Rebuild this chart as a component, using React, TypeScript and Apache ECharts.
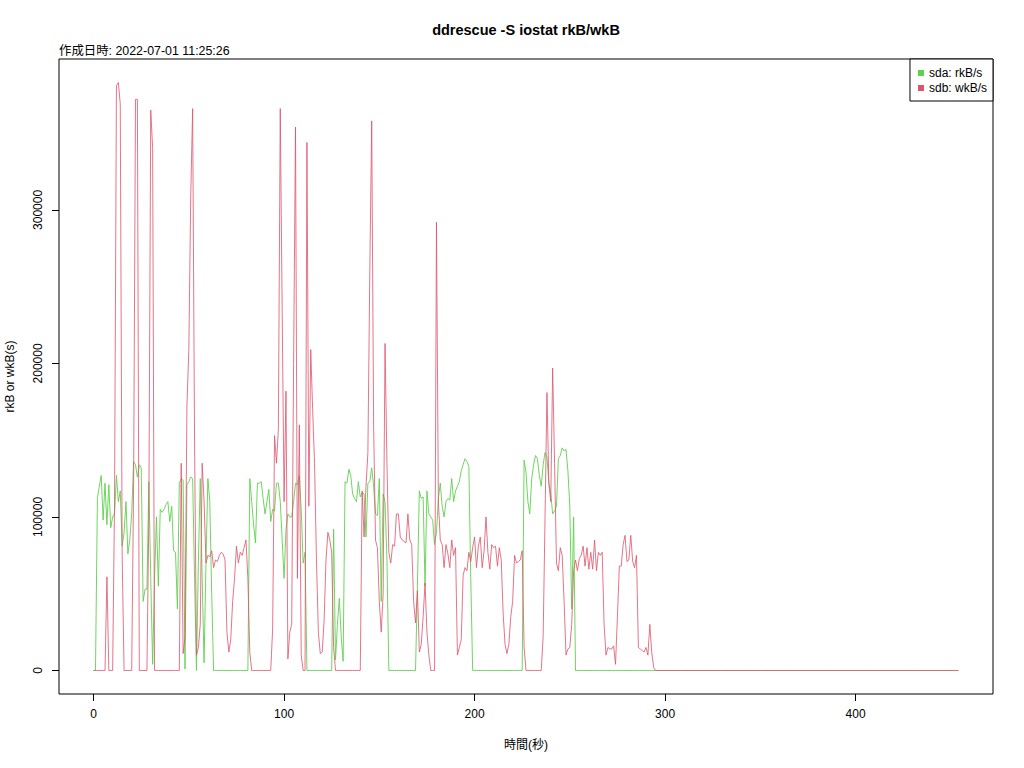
import React, { useEffect, useRef } from "react";
import * as echarts from "echarts";

// sda: rkB/s, one value per second (t = 0 .. 454)
const sdaRead: number[] = [
  /* 0   */ 0, 0, 112000, 120000, 127000, 98000, 122000, 95000, 121000, 93000,
  /* 10  */ 100000, 102000, 127000, 110000, 117000, 81000, 90000, 110000, 76000, 85000,
  /* 20  */ 102000, 136000, 134000, 126000, 134000, 132000, 45000, 53000, 53000, 123000,
  /* 30  */ 60000, 4000, 60000, 100000, 55000, 105000, 103000, 105000, 108000, 110000,
  /* 40  */ 97000, 107000, 78000, 77000, 40000, 122000, 125000, 124000, 1000, 121000,
  /* 50  */ 123000, 126000, 125000, 60000, 0, 70000, 125000, 60000, 5000, 70000,
  /* 60  */ 125000, 110000, 50000, 0, 0, 0, 0, 0, 0, 0,
  /* 70  */ 0, 0, 0, 0, 0, 0, 0, 0, 0, 0,
  /* 80  */ 0, 0, 125000, 110000, 95000, 83000, 122000, 122000, 123000, 112000,
  /* 90  */ 102000, 110000, 118000, 97000, 105000, 104000, 122000, 122000, 110000, 85000,
  /* 100 */ 60000, 92000, 102000, 100000, 100000, 110000, 122000, 121000, 127000, 105000,
  /* 110 */ 70000, 77000, 0, 0, 0, 0, 0, 0, 0, 0,
  /* 120 */ 0, 0, 0, 0, 0, 0, 92000, 7000, 30000, 47000,
  /* 130 */ 22000, 6000, 123000, 122000, 131000, 127000, 115000, 112000, 110000, 123000,
  /* 140 */ 113000, 116000, 115000, 87000, 122000, 123000, 132000, 120000, 102000, 101000,
  /* 150 */ 125000, 45000, 115000, 110000, 72000, 0, 0, 0, 0, 0,
  /* 160 */ 0, 0, 0, 0, 0, 0, 0, 0, 0, 0,
  /* 170 */ 55000, 117000, 112000, 113000, 55000, 117000, 102000, 100000, 98000, 82000,
  /* 180 */ 90000, 112000, 122000, 107000, 100000, 110000, 112000, 111000, 125000, 110000,
  /* 190 */ 117000, 120000, 123000, 130000, 134000, 138000, 136000, 133000, 60000, 0,
  /* 200 */ 0, 0, 0, 0, 0, 0, 0, 0, 0, 0,
  /* 210 */ 0, 0, 0, 0, 0, 0, 0, 0, 0, 0,
  /* 220 */ 0, 0, 0, 0, 0, 0, 137000, 129000, 110000, 102000,
  /* 230 */ 125000, 134000, 140000, 138000, 127000, 120000, 134000, 142000, 139000, 122000,
  /* 240 */ 115000, 102000, 104000, 107000, 138000, 140000, 145000, 143000, 144000, 130000,
  /* 250 */ 107000, 40000, 100000, 0, 0, 0, 0, 0, 0, 0,
  /* 260 */ 0, 0, 0, 0, 0, 0, 0, 0, 0, 0,
  /* 270 */ 0, 0, 0, 0, 0, 0, 0, 0, 0, 0,
  /* 280 */ 0, 0, 0, 0, 0, 0, 0, 0, 0, 0,
  /* 290 */ 0, 0, 0, 0, 0, 0, 0, 0, 0, 0,
  /* 300 */ 0, 0, 0, 0, 0, 0, 0, 0, 0, 0,
  /* 310 */ 0, 0, 0, 0, 0, 0, 0, 0, 0, 0,
  /* 320 */ 0, 0, 0, 0, 0, 0, 0, 0, 0, 0,
  /* 330 */ 0, 0, 0, 0, 0, 0, 0, 0, 0, 0,
  /* 340 */ 0, 0, 0, 0, 0, 0, 0, 0, 0, 0,
  /* 350 */ 0, 0, 0, 0, 0, 0, 0, 0, 0, 0,
  /* 360 */ 0, 0, 0, 0, 0, 0, 0, 0, 0, 0,
  /* 370 */ 0, 0, 0, 0, 0, 0, 0, 0, 0, 0,
  /* 380 */ 0, 0, 0, 0, 0, 0, 0, 0, 0, 0,
  /* 390 */ 0, 0, 0, 0, 0, 0, 0, 0, 0, 0,
  /* 400 */ 0, 0, 0, 0, 0, 0, 0, 0, 0, 0,
  /* 410 */ 0, 0, 0, 0, 0, 0, 0, 0, 0, 0,
  /* 420 */ 0, 0, 0, 0, 0, 0, 0, 0, 0, 0,
  /* 430 */ 0, 0, 0, 0, 0, 0, 0, 0, 0, 0,
  /* 440 */ 0, 0, 0, 0, 0, 0, 0, 0, 0, 0,
  /* 450 */ 0, 0, 0, 0, 0,
];

// sdb: wkB/s, one value per second (t = 0 .. 454)
const sdbWrite: number[] = [
  /* 0   */ 0, 0, 0, 0, 0, 0, 0, 61000, 0, 0,
  /* 10  */ 0, 110000, 381000, 383000, 369000, 75000, 0, 0, 0, 0,
  /* 20  */ 0, 120000, 372000, 372000, 0, 0, 0, 0, 0, 100000,
  /* 30  */ 365000, 340000, 0, 0, 0, 0, 0, 0, 0, 0,
  /* 40  */ 0, 0, 0, 0, 0, 0, 135000, 11000, 22000, 172000,
  /* 50  */ 209000, 309000, 366000, 150000, 10000, 15000, 30000, 135000, 110000, 70000,
  /* 60  */ 75000, 74000, 78000, 67000, 72000, 71000, 75000, 77000, 76000, 72000,
  /* 70  */ 25000, 12000, 20000, 45000, 60000, 81000, 70000, 77000, 75000, 80000,
  /* 80  */ 85000, 60000, 12000, 0, 0, 0, 0, 0, 0, 0,
  /* 90  */ 0, 0, 0, 0, 27000, 153000, 135000, 157000, 366000, 234000,
  /* 100 */ 110000, 182000, 7500, 25000, 30000, 200000, 354000, 60000, 160000, 10000,
  /* 110 */ 0, 0, 344000, 107000, 209000, 170000, 135000, 72000, 25000, 11000,
  /* 120 */ 12000, 32000, 72000, 90000, 85000, 77000, 15000, 0, 0, 0,
  /* 130 */ 0, 0, 0, 0, 0, 0, 0, 0, 0, 0,
  /* 140 */ 0, 117000, 87000, 120000, 142000, 260000, 358000, 160000, 85000, 80000,
  /* 150 */ 45000, 25000, 50000, 213000, 135000, 77000, 70000, 82000, 81000, 102000,
  /* 160 */ 102000, 87000, 85000, 84000, 83000, 102000, 85000, 82000, 45000, 31000,
  /* 170 */ 52000, 12000, 17000, 35000, 57000, 25000, 10000, 0, 0, 0,
  /* 180 */ 292000, 110000, 85000, 82000, 67000, 82000, 76000, 67000, 85000, 75000,
  /* 190 */ 80000, 10000, 15000, 20000, 62000, 67000, 65000, 77000, 71000, 80000,
  /* 200 */ 87000, 67000, 81000, 87000, 67000, 78000, 100000, 77000, 66000, 82000,
  /* 210 */ 80000, 81000, 68000, 80000, 72000, 37000, 17000, 11000, 17000, 35000,
  /* 220 */ 45000, 75000, 70000, 71000, 72000, 78000, 15000, 0, 0, 0,
  /* 230 */ 0, 0, 0, 0, 0, 0, 22000, 100000, 181000, 122000,
  /* 240 */ 110000, 197000, 135000, 70000, 65000, 80000, 75000, 45000, 10000, 14000,
  /* 250 */ 15000, 30000, 65000, 72000, 65000, 73000, 75000, 81000, 68000, 80000,
  /* 260 */ 66000, 77000, 66000, 85000, 65000, 77000, 75000, 77000, 30000, 10000,
  /* 270 */ 15000, 14000, 14000, 16000, 4000, 35000, 68000, 68000, 82000, 88000,
  /* 280 */ 71000, 72000, 88000, 71000, 67000, 75000, 15000, 14000, 13000, 12000,
  /* 290 */ 15000, 10000, 30000, 12000, 2000, 0, 0, 0, 0, 0,
  /* 300 */ 0, 0, 0, 0, 0, 0, 0, 0, 0, 0,
  /* 310 */ 0, 0, 0, 0, 0, 0, 0, 0, 0, 0,
  /* 320 */ 0, 0, 0, 0, 0, 0, 0, 0, 0, 0,
  /* 330 */ 0, 0, 0, 0, 0, 0, 0, 0, 0, 0,
  /* 340 */ 0, 0, 0, 0, 0, 0, 0, 0, 0, 0,
  /* 350 */ 0, 0, 0, 0, 0, 0, 0, 0, 0, 0,
  /* 360 */ 0, 0, 0, 0, 0, 0, 0, 0, 0, 0,
  /* 370 */ 0, 0, 0, 0, 0, 0, 0, 0, 0, 0,
  /* 380 */ 0, 0, 0, 0, 0, 0, 0, 0, 0, 0,
  /* 390 */ 0, 0, 0, 0, 0, 0, 0, 0, 0, 0,
  /* 400 */ 0, 0, 0, 0, 0, 0, 0, 0, 0, 0,
  /* 410 */ 0, 0, 0, 0, 0, 0, 0, 0, 0, 0,
  /* 420 */ 0, 0, 0, 0, 0, 0, 0, 0, 0, 0,
  /* 430 */ 0, 0, 0, 0, 0, 0, 0, 0, 0, 0,
  /* 440 */ 0, 0, 0, 0, 0, 0, 0, 0, 0, 0,
  /* 450 */ 0, 0, 0, 0, 0,
];

const xTicks: number[] = [0, 100, 200, 300, 400];
const yTicks: number[] = [0, 100000, 200000, 300000];
const seriesNames: string[] = ["sda: rkB/s", "sdb: wkB/s"];
const seriesColors: string[] = ["#61D04F", "#DF536B"];
const chartTitle = "ddrescue -S iostat rkB/wkB";
const chartSubtitle = "作成日時: 2022-07-01 11:25:26";
const xAxisTitle = "時間(秒)";
const yAxisTitle = "rkB or wkB(s)";

const FONT = '"Liberation Sans", Arial, "Noto Sans CJK JP", sans-serif';

export default function App() {
  const ref = useRef<HTMLDivElement>(null);

  useEffect(() => {
    if (!ref.current) return;
    const chart = echarts.init(ref.current, null, { renderer: "svg" });
    const W = 1024;
    const box = { l: 59, r: 993, t: 59, b: 694 };

    const tMax = Math.max(sdaRead.length, sdbWrite.length) - 1;
    const xMin = -0.04 * tMax;
    const xMax = tMax * 1.04;
    const vMax = Math.max(...sdaRead, ...sdbWrite);
    const yMin = -0.04 * vMax;
    const yMax = vMax * 1.04;

    const option: any = {
      animation: false,
      backgroundColor: "#ffffff",
      textStyle: { fontFamily: FONT },
      grid: {
        left: box.l,
        top: box.t,
        width: box.r - box.l,
        height: box.b - box.t,
        show: true,
        borderColor: "#000000",
        borderWidth: 1,
        backgroundColor: "transparent",
        containLabel: false,
        outerBoundsMode: "none",
      },
      xAxis: {
        type: "value",
        min: xMin,
        max: xMax,
        axisLine: { show: false, onZero: false },
        splitLine: { show: false },
        axisTick: {
          show: true,
          inside: false,
          length: 7,
          customValues: xTicks,
          lineStyle: { color: "#000" },
        },
        axisLabel: {
          show: true,
          customValues: xTicks,
          margin: 14,
          fontSize: 12,
          color: "#000",
          fontFamily: FONT,
          formatter: (v: number) => String(v),
        },
      },
      yAxis: {
        type: "value",
        min: yMin,
        max: yMax,
        axisLine: { show: false, onZero: false },
        splitLine: { show: false },
        axisTick: {
          show: true,
          inside: false,
          length: 7,
          customValues: yTicks,
          lineStyle: { color: "#000" },
        },
        axisLabel: {
          show: true,
          customValues: yTicks,
          rotate: 90,
          margin: 15,
          fontSize: 12,
          color: "#000",
          fontFamily: FONT,
          formatter: (v: number) => String(v),
        },
      },
      legend: {
        data: seriesNames,
        orient: "vertical",
        right: W - box.r,
        top: box.t,
        backgroundColor: "#ffffff",
        borderColor: "#000000",
        borderWidth: 1,
        borderRadius: 0,
        padding: [7, 6, 6, 8],
        itemGap: 1,
        itemWidth: 6,
        itemHeight: 6,
        icon: "rect",
        textStyle: { fontSize: 12, color: "#000", fontFamily: FONT, lineHeight: 14 },
        itemStyle: { opacity: 1 },
      },
      series: [
        {
          name: seriesNames[0],
          type: "line",
          data: sdaRead.map((v, i) => [i, v]),
          showSymbol: false,
          symbol: "none",
          color: seriesColors[0],
          lineStyle: { color: seriesColors[0], width: 1, opacity: 0.9 },
          z: 2,
        },
        {
          name: seriesNames[1],
          type: "line",
          data: sdbWrite.map((v, i) => [i, v]),
          showSymbol: false,
          symbol: "none",
          color: seriesColors[1],
          lineStyle: { color: seriesColors[1], width: 1, opacity: 0.8 },
          z: 3,
        },
      ],
      graphic: [
        {
          type: "text",
          x: (box.l + box.r) / 2,
          y: 30,
          style: {
            text: chartTitle,
            align: "center",
            verticalAlign: "middle",
            fontSize: 14.5,
            fontWeight: "bold",
            fontFamily: FONT,
            fill: "#000",
          },
        },
        {
          type: "text",
          x: box.l,
          y: 51,
          style: {
            text: chartSubtitle,
            align: "left",
            verticalAlign: "middle",
            fontSize: 12.4,
            fontFamily: FONT,
            fill: "#000",
          },
        },
        {
          type: "text",
          x: (box.l + box.r) / 2,
          y: 745,
          style: {
            text: xAxisTitle,
            align: "center",
            verticalAlign: "middle",
            fontSize: 12,
            fontFamily: FONT,
            fill: "#000",
          },
        },
        {
          type: "text",
          x: 10,
          y: (box.t + box.b) / 2,
          rotation: Math.PI / 2,
          style: {
            text: yAxisTitle,
            align: "center",
            verticalAlign: "middle",
            fontSize: 12,
            fontFamily: FONT,
            fill: "#000",
          },
        },
      ],
    };

    chart.setOption(option);
    return () => {
      chart.dispose();
    };
  }, []);

  return (
    <div
      ref={ref}
      style={{ position: "absolute", left: 0, top: 0, width: 1024, height: 768, background: "#fff" }}
    />
  );
}
